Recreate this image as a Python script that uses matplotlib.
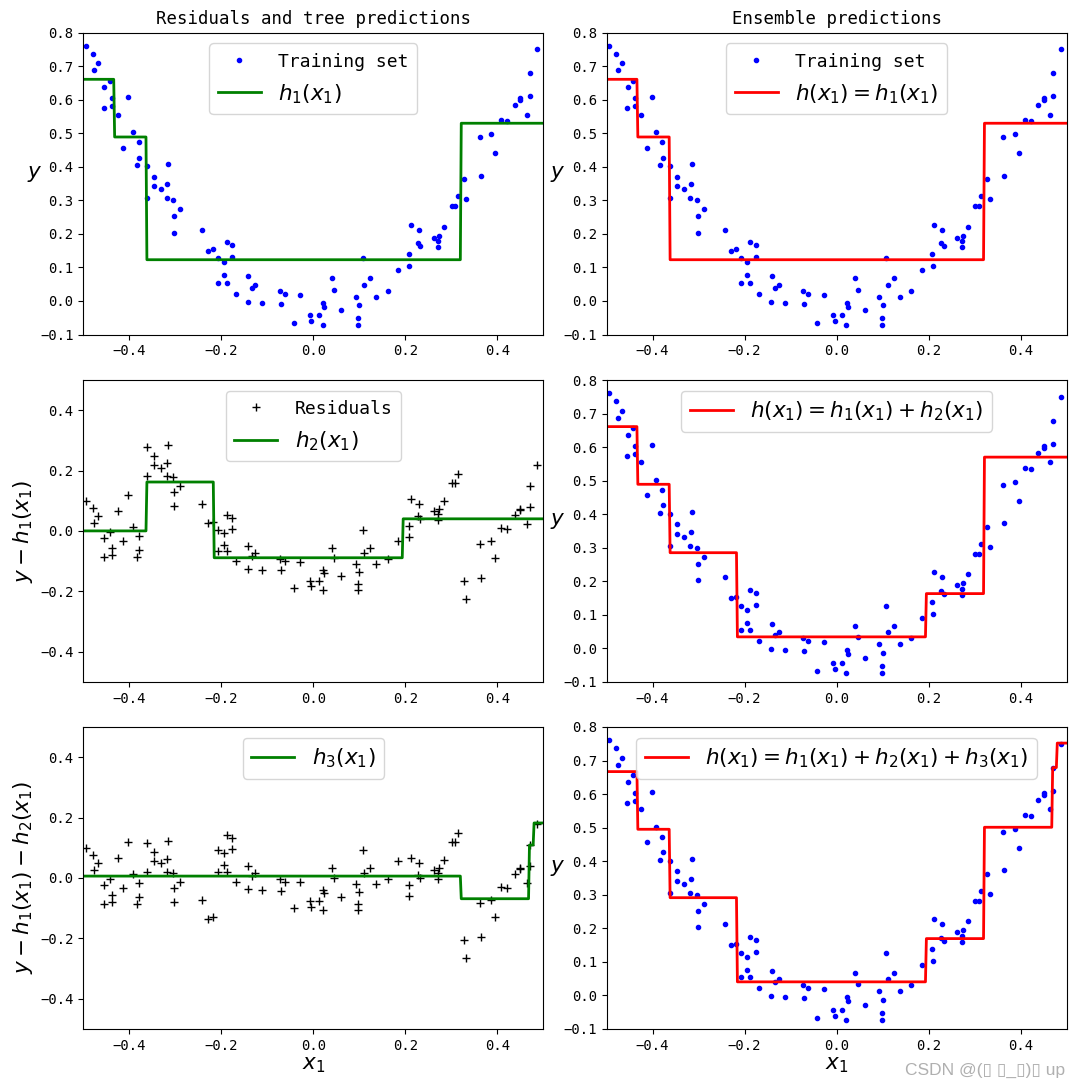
import numpy as np
import matplotlib
matplotlib.use("Agg")
import matplotlib.pyplot as plt

# training set (x1, y)
x_train = [-0.495, -0.480, -0.476, -0.467, -0.456, -0.454, -0.443, -0.438, -0.438, -0.425,
           -0.413, -0.402, -0.393, -0.384, -0.380, -0.378, -0.361, -0.361, -0.346, -0.346,
           -0.331, -0.319, -0.317, -0.315, -0.304, -0.302, -0.302, -0.289,
           -0.243, -0.230, -0.219, -0.208, -0.208, -0.195, -0.195, -0.188, -0.188, -0.176,
           -0.176, -0.169, -0.143, -0.141, -0.134, -0.126, -0.111, -0.073, -0.070, -0.061,
           -0.043, -0.028, -0.007, -0.004,
           0.013, 0.020, 0.022, 0.024, 0.041, 0.046, 0.061, 0.092, 0.098, 0.098,
           0.100, 0.107, 0.111, 0.124, 0.137, 0.163, 0.185, 0.207, 0.209, 0.213,
           0.228, 0.230, 0.233,
           0.262, 0.272, 0.272, 0.274, 0.285, 0.302, 0.309, 0.315, 0.328, 0.333,
           0.363, 0.365, 0.387, 0.396, 0.409, 0.422, 0.439, 0.450, 0.450, 0.465,
           0.470, 0.470, 0.487]
y_train = [0.760, 0.736, 0.688, 0.709, 0.574, 0.637, 0.657, 0.604, 0.580, 0.556,
           0.456, 0.607, 0.503, 0.404, 0.473, 0.426, 0.401, 0.306, 0.371, 0.342,
           0.333, 0.306, 0.348, 0.407, 0.300, 0.252, 0.204, 0.273,
           0.213, 0.150, 0.154, 0.127, 0.055, 0.115, 0.076, 0.175, 0.055, 0.166,
           0.130, 0.022, -0.002, 0.073, 0.040, 0.049, -0.005, 0.031, -0.008, 0.022,
           -0.067, 0.019, -0.043, -0.061,
           -0.043, -0.073, -0.005, -0.017, 0.067, 0.034, -0.028, 0.013, -0.052, -0.073,
           -0.013, 0.127, 0.049, 0.067, 0.013, 0.031, 0.091, 0.139, 0.103, 0.228,
           0.172, 0.213, 0.163,
           0.189, 0.178, 0.160, 0.195, 0.222, 0.282, 0.282, 0.312, 0.363, 0.303,
           0.488, 0.374, 0.497, 0.440, 0.539, 0.536, 0.583, 0.598, 0.604, 0.554,
           0.610, 0.679, 0.750]

# depth-2 regression trees: split thresholds and leaf values
h1_splits = [-0.433, -0.362, 0.321]
h1_values = [0.661, 0.489, 0.123, 0.530]
h2_splits = [-0.362, -0.217, 0.1945]
h2_values = [0.0, 0.162, -0.089, 0.040]
h3_splits = [0.321, 0.468, 0.478]
h3_values = [0.006, -0.069, 0.109, 0.182]

xticks = [-0.4, -0.2, 0.0, 0.2, 0.4]
yticks_pred = [-0.1, 0.0, 0.1, 0.2, 0.3, 0.4, 0.5, 0.6, 0.7, 0.8]
yticks_res = [-0.4, -0.2, 0.0, 0.2, 0.4]

plt.rcParams['font.family'] = ['DejaVu Sans Mono']
plt.rcParams['axes.unicode_minus'] = True
plt.rcParams['mathtext.fontset'] = 'dejavusans'


def tree(x, splits, values):
    return np.asarray(values)[np.searchsorted(splits, x)]


X = np.array(x_train)
Y = np.array(y_train)
x1 = np.linspace(-0.5, 0.5, 500)
p1 = tree(x1, h1_splits, h1_values)
p2 = tree(x1, h2_splits, h2_values)
p3 = tree(x1, h3_splits, h3_values)
res1 = Y - tree(X, h1_splits, h1_values)
res2 = res1 - tree(X, h2_splits, h2_values)

fig = plt.figure(figsize=(10.76, 10.89), dpi=100)
W, H = 1076.0, 1089.0
lefts = [83.3, 606.5]
tops = [32.7, 380.0, 727.0]
aw, ah = 460.0, 301.8
axs = [[fig.add_axes([l / W, 1 - (t + ah) / H, aw / W, ah / H]) for l in lefts] for t in tops]

TICK = 10
MATH = 15.5
TXT = 13


def style(ax, ylim, yticks, ylabel, rot=0, xlabel=None):
    ax.set_xlim(-0.5, 0.5)
    ax.set_ylim(*ylim)
    ax.set_xticks(xticks)
    ax.set_yticks(yticks)
    ax.set_xticklabels([('%.1f' % v).replace('-', '\u2212') for v in xticks])
    ax.set_yticklabels([('%.1f' % v).replace('-', '\u2212') for v in yticks])
    ax.tick_params(labelsize=TICK)
    if rot == 0:
        ax.set_ylabel(ylabel, fontsize=MATH, rotation=0, labelpad=4)
    else:
        ax.set_ylabel(ylabel, fontsize=MATH)
    if xlabel:
        ax.set_xlabel(xlabel, fontsize=MATH, labelpad=2)


def legend(ax):
    leg = ax.legend(loc='upper center', fontsize=MATH)
    for t in leg.get_texts():
        if '$' not in t.get_text():
            t.set_fontsize(TXT)
    return leg


# row 1
ax = axs[0][0]
ax.plot(X, Y, 'b.', label='Training set')
ax.plot(x1, p1, 'g-', linewidth=2, label='$h_1(x_1)$')
style(ax, (-0.1, 0.8), yticks_pred, '$y$')
ax.set_title('Residuals and tree predictions', fontsize=12.5)
legend(ax)

ax = axs[0][1]
ax.plot(X, Y, 'b.', label='Training set')
ax.plot(x1, p1, 'r-', linewidth=2, label='$h(x_1) = h_1(x_1)$')
style(ax, (-0.1, 0.8), yticks_pred, '$y$')
ax.set_title('Ensemble predictions', fontsize=12.5)
legend(ax)

# row 2
ax = axs[1][0]
ax.plot(X, res1, 'k+', label='Residuals')
ax.plot(x1, p2, 'g-', linewidth=2, label='$h_2(x_1)$')
style(ax, (-0.5, 0.5), yticks_res, '$y - h_1(x_1)$', rot=90)
legend(ax)

ax = axs[1][1]
ax.plot(X, Y, 'b.')
ax.plot(x1, p1 + p2, 'r-', linewidth=2, label='$h(x_1) = h_1(x_1) + h_2(x_1)$')
style(ax, (-0.1, 0.8), yticks_pred, '$y$')
legend(ax)

# row 3
ax = axs[2][0]
ax.plot(X, res2, 'k+')
ax.plot(x1, p3, 'g-', linewidth=2, label='$h_3(x_1)$')
style(ax, (-0.5, 0.5), yticks_res, '$y - h_1(x_1) - h_2(x_1)$', rot=90, xlabel='$x_1$')
legend(ax)

ax = axs[2][1]
ax.plot(X, Y, 'b.')
ax.plot(x1, p1 + p2 + p3, 'r-', linewidth=2, label='$h(x_1) = h_1(x_1) + h_2(x_1) + h_3(x_1)$')
style(ax, (-0.1, 0.8), yticks_pred, '$y$', xlabel='$x_1$')
legend(ax)

fig.text(905 / W, 1 - 1070 / H, 'CSDN @(\u25af \u25af_\u25af)\u25af up', fontsize=12.5,
         color='#b0b0b0', family=['Liberation Sans', 'DejaVu Sans'], va='center')

fig.savefig('out.png', dpi=100)
